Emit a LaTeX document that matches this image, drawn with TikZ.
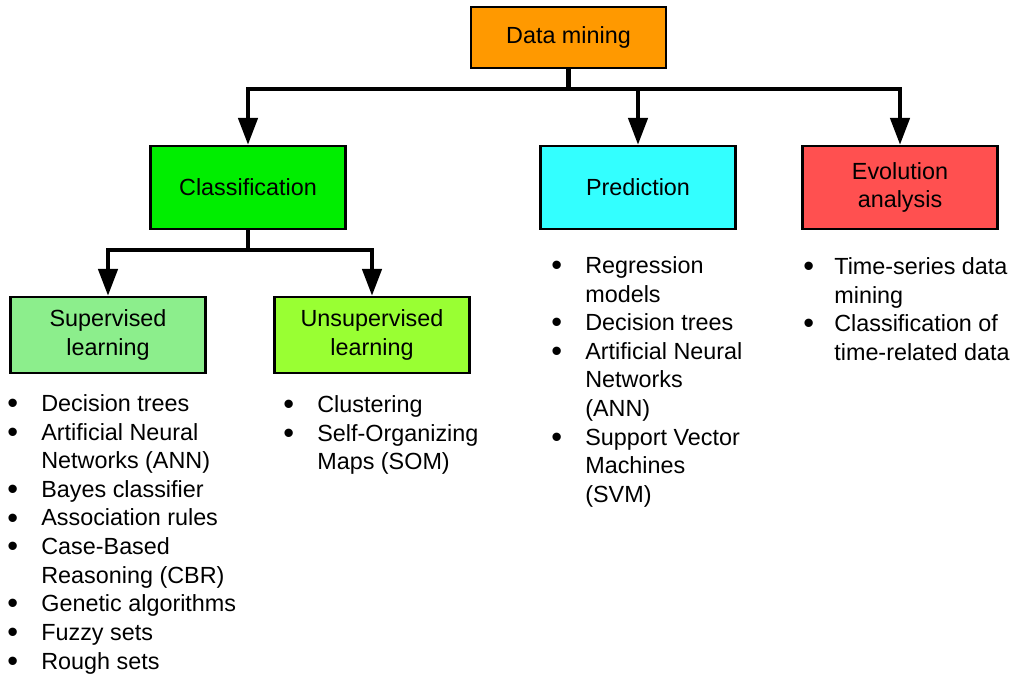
\documentclass[tikz,border=0pt]{standalone}
\usepackage{fontspec}
\setmainfont{Liberation Sans}
\usetikzlibrary{arrows.meta}

\definecolor{dmorange}{RGB}{255,153,0}
\definecolor{clsgreen}{RGB}{0,238,0}
\definecolor{predcyan}{RGB}{51,255,255}
\definecolor{evored}{RGB}{255,80,80}
\definecolor{supgreen}{RGB}{140,238,140}
\definecolor{unsgreen}{RGB}{153,255,51}

\newcommand{\bul}{\raisebox{-1.2pt}{\fontsize{17.5}{16.3}\selectfont\textbullet}}

\tikzset{
  box/.style={draw, line width=0.045cm, inner sep=0pt, minimum width=3.9cm, align=center},
  bus/.style={line width=0.09cm},
  arr/.style={bus, -{Triangle[length=0.54cm,width=0.38cm]}},
  list/.style={anchor=north west, inner sep=0pt},
}

\begin{document}
\begin{tikzpicture}[x=0.02cm, y=-0.02cm, font=\fontsize{13.3}{16.3}\selectfont]
    \useasboundingbox (0,0) rectangle (1021,676);

    \node[box, fill=dmorange, minimum height=1.22cm] (dm)   at (568.5,37.5) {Data mining};
    \node[box, fill=clsgreen, minimum height=1.66cm] (cls)  at (248,187.5)  {Classification};
    \node[box, fill=predcyan, minimum height=1.66cm] (pred) at (638,187.5)  {Prediction};
    \node[box, fill=evored,   minimum height=1.66cm] (evo)  at (900,187.5)  {Evolution\\analysis};
    \node[box, fill=supgreen, minimum height=1.52cm] (sup)  at (108,335)    {Supervised\\learning};
    \node[box, fill=unsgreen, minimum height=1.52cm] (uns)  at (372,335)    {Unsupervised\\learning};

    \coordinate (dmbus)  at (568.5,89);
    \coordinate (clsbus) at (248,250);

    \draw [bus] (dm)     -- (dmbus);
    \draw [arr] (dmbus)  -| (cls);
    \draw [arr] (dmbus)  -| (pred);
    \draw [arr] (dmbus)  -| (evo);
    \draw [bus] (cls)    -- (clsbus);
    \draw [arr] (clsbus) -| (sup);
    \draw [arr] (clsbus) -| (uns);

    % bullet lists
    \node[list] (suplist) at (7,391) {\begin{tabular}{@{}p{0.68cm}@{}l@{}}
        \bul & Decision trees\\
        \bul & Artificial Neural\\
             & Networks (ANN)\\
        \bul & Bayes classifier\\
        \bul & Association rules\\
        \bul & Case-Based\\
             & Reasoning (CBR)\\
        \bul & Genetic algorithms\\
        \bul & Fuzzy sets\\
        \bul & Rough sets
    \end{tabular}};
    \node[list] (unslist) at (283,392) {\begin{tabular}{@{}p{0.68cm}@{}l@{}}
        \bul & Clustering\\
        \bul & Self-Organizing\\
             & Maps (SOM)
    \end{tabular}};
    \node[list] (predlist) at (551,253) {\begin{tabular}{@{}p{0.68cm}@{}l@{}}
        \bul & Regression\\
             & models\\
        \bul & Decision trees\\
        \bul & Artificial Neural\\
             & Networks\\
             & (ANN)\\
        \bul & Support Vector\\
             & Machines\\
             & (SVM)
    \end{tabular}};
    \node[list] (evolist) at (803,254) {\begin{tabular}{@{}p{0.62cm}@{}l@{}}
        \bul & Time-series data\\
             & mining\\
        \bul & Classification of\\
             & time-related data
    \end{tabular}};
\end{tikzpicture}
\end{document}
